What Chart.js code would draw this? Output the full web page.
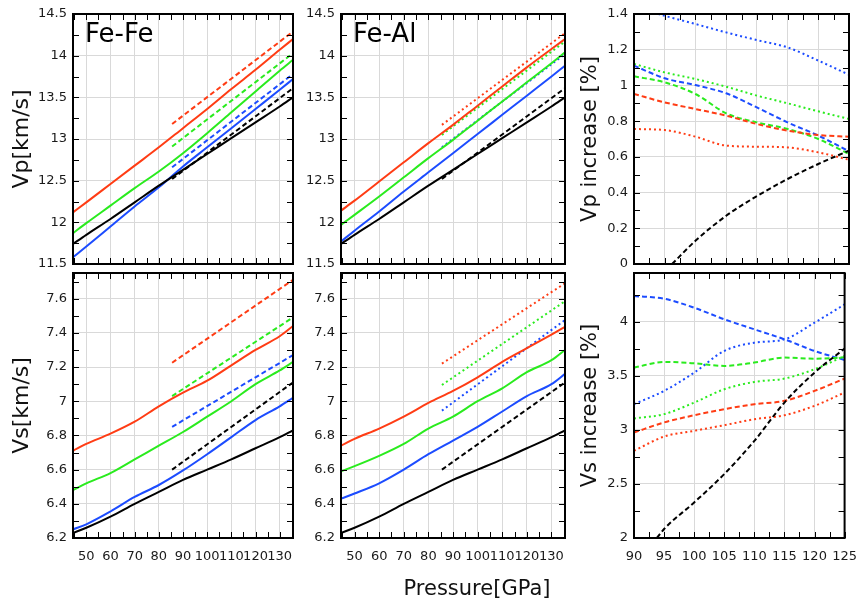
<!DOCTYPE html>
<html>
<head>
<meta charset="utf-8">
<script src="https://cdn.jsdelivr.net/npm/chart.js@4.4.1/dist/chart.umd.min.js"></script>
<style>
  body { margin: 0; background: #fff; }
  #wrap { position: relative; width: 868px; height: 604px; }
  #wrap canvas { position: absolute; left: 0; top: 0; }
</style>
</head>
<body>
<div id="wrap">
  <canvas id="vpFeFe" width="868" height="604"></canvas>
  <canvas id="vpFeAl" width="868" height="604"></canvas>
  <canvas id="vpInc" width="868" height="604"></canvas>
  <canvas id="vsFeFe" width="868" height="604"></canvas>
  <canvas id="vsFeAl" width="868" height="604"></canvas>
  <canvas id="vsInc" width="868" height="604"></canvas>
</div>
<script>
// pressures (GPa)
const pFull = [44.5, 50, 60, 70, 80, 90, 100, 110, 120, 130, 135.5];
const pHigh = [85.5, 135.5];
const pInc = [90, 95, 100, 105, 110, 115, 120, 125];

// tick labels
const pTicks = [50, 60, 70, 80, 90, 100, 110, 120, 130];
const incTicks = [90, 95, 100, 105, 110, 115, 120, 125];
const vpTicks = [11.5, 12, 12.5, 13, 13.5, 14, 14.5];
const vsTicks = [6.2, 6.4, 6.6, 6.8, 7, 7.2, 7.4, 7.6];
const vpIncTicks = [0, 0.2, 0.4, 0.6, 0.8, 1, 1.2, 1.4];
const vsIncTicks = [2, 2.5, 3, 3.5, 4];

// pure Fe (same in both panels)
const vpFe = [11.74, 11.85, 12.04, 12.24, 12.44, 12.63, 12.82, 13.01, 13.2, 13.39, 13.5];
const vpFeHigh = [12.52, 13.61];
const vsFe = [6.23, 6.26, 6.325, 6.4, 6.47, 6.54, 6.6, 6.66, 6.725, 6.79, 6.83];
const vsFeHigh = [6.6, 7.11];

// Vp, Fe-Fe
const vpFeFeRed = [12.12, 12.24, 12.46, 12.68, 12.9, 13.13, 13.36, 13.6, 13.83, 14.07, 14.2];
const vpFeFeGreen = [11.87, 11.99, 12.2, 12.41, 12.61, 12.83, 13.07, 13.32, 13.57, 13.82, 13.95];
const vpFeFeBlue = [11.58, 11.71, 11.95, 12.19, 12.42, 12.67, 12.9, 13.13, 13.36, 13.59, 13.72];
const vpFeFeRedHigh = [13.18, 14.29];
const vpFeFeGreenHigh = [12.91, 14.03];
const vpFeFeBlueHigh = [12.66, 13.78];

// Vp, Fe-Al
const vpFeAlRed = [12.14, 12.26, 12.49, 12.72, 12.95, 13.17, 13.4, 13.63, 13.86, 14.08, 14.2];
const vpFeAlGreen = [11.97, 12.09, 12.31, 12.54, 12.77, 12.99, 13.22, 13.45, 13.68, 13.91, 14.04];
const vpFeAlBlue = [11.77, 11.9, 12.13, 12.37, 12.6, 12.83, 13.06, 13.29, 13.52, 13.75, 13.88];
const vpFeAlRedHigh = [13.17, 14.27];
const vpFeAlGreenHigh = [13.05, 14.17];
const vpFeAlBlueHigh = [12.9, 14.02];

// Vs, Fe-Fe
const vsFeFeRed = [6.71, 6.75, 6.81, 6.88, 6.97, 7.05, 7.12, 7.21, 7.3, 7.38, 7.44];
const vsFeFeGreen = [6.48, 6.52, 6.58, 6.66, 6.74, 6.82, 6.91, 7.0, 7.1, 7.18, 7.23];
const vsFeFeBlue = [6.25, 6.28, 6.355, 6.44, 6.51, 6.595, 6.69, 6.79, 6.89, 6.97, 7.02];
const vsFeFeRedHigh = [7.225, 7.71];
const vsFeFeGreenHigh = [7.03, 7.49];
const vsFeFeBlueHigh = [6.85, 7.27];

// Vs, Fe-Al
const vsFeAlRed = [6.74, 6.78, 6.84, 6.91, 6.99, 7.06, 7.14, 7.23, 7.31, 7.39, 7.435];
const vsFeAlGreen = [6.59, 6.62, 6.68, 6.75, 6.84, 6.91, 7.0, 7.075, 7.17, 7.24, 7.3];
const vsFeAlBlue = [6.43, 6.46, 6.52, 6.6, 6.69, 6.77, 6.85, 6.94, 7.03, 7.1, 7.16];
const vsFeAlRedHigh = [7.22, 7.69];
const vsFeAlGreenHigh = [7.095, 7.585];
const vsFeAlBlueHigh = [6.945, 7.475];

// Vp increase [%]
const vpIncBlueDot = [1.44, 1.39, 1.344, 1.297, 1.254, 1.213, 1.139, 1.06];
const vpIncGreenDot = [1.12, 1.073, 1.036, 0.993, 0.943, 0.9, 0.855, 0.812];
const vpIncRedDot = [0.756, 0.75, 0.713, 0.663, 0.657, 0.653, 0.625, 0.584];
const vpIncBlueDash = [1.111, 1.04, 1.002, 0.956, 0.877, 0.793, 0.719, 0.631];
const vpIncGreenDash = [1.051, 1.017, 0.952, 0.844, 0.793, 0.756, 0.7, 0.616];
const vpIncRedDash = [0.952, 0.905, 0.868, 0.831, 0.784, 0.747, 0.722, 0.713];
const pIncBlackVp = [96.2, 100, 105, 110, 115, 120, 125];
const vpIncBlack = [0, 0.13, 0.27, 0.38, 0.476, 0.56, 0.635];

// Vs increase [%]
const vsIncBlueDash = [4.237, 4.212, 4.129, 4.022, 3.929, 3.837, 3.729, 3.646];
const vsIncBlueDot = [3.237, 3.36, 3.529, 3.729, 3.806, 3.837, 3.991, 4.16];
const vsIncGreenDash = [3.575, 3.628, 3.615, 3.591, 3.622, 3.668, 3.658, 3.67];
const vsIncGreenDot = [3.105, 3.145, 3.252, 3.375, 3.443, 3.474, 3.56, 3.683];
const vsIncRedDash = [2.975, 3.068, 3.135, 3.191, 3.237, 3.268, 3.36, 3.474];
const vsIncRedDot = [2.806, 2.938, 2.991, 3.043, 3.098, 3.135, 3.222, 3.345];
const pIncBlackVs = [93.8, 95, 100, 105, 110, 115, 120, 125];
const vsIncBlack = [2.0, 2.083, 2.329, 2.591, 2.898, 3.252, 3.529, 3.751];

const RED = '#ff3c14', GREEN = '#2aeb1e', BLUE = '#1c4cff', BLACK = '#000';
const DASH = [5, 3], DOT = [2, 3];

Chart.defaults.font.family = '"DejaVu Sans", sans-serif';
Chart.defaults.font.size = 13;
Chart.defaults.color = '#1a1a1a';

function line(xs, ys, color, dash) {
  return {
    data: xs.map((x, i) => ({ x: x, y: ys[i] })),
    borderColor: color,
    borderWidth: 2,
    borderDash: dash || [],
    pointRadius: 0,
    cubicInterpolationMode: 'monotone',
    fill: false
  };
}

// inward ticks on all four sides, frame, and in-plot text
const frame = {
  id: 'frame',
  afterDatasetsDraw(chart, args, o) {
    const { ctx, chartArea: a, scales: { x, y } } = chart;
    ctx.save();
    ctx.strokeStyle = '#000';
    ctx.lineWidth = 1;
    ctx.beginPath();
    for (let v = Math.ceil(x.min / o.xStep - 1e-6) * o.xStep; v <= x.max + 1e-6; v += o.xStep) {
      const px = Math.round(x.getPixelForValue(v)) + 0.5;
      ctx.moveTo(px, a.bottom); ctx.lineTo(px, a.bottom - 6);
      ctx.moveTo(px, a.top); ctx.lineTo(px, a.top + 6);
    }
    for (let v = Math.ceil(y.min / o.yStep - 1e-6) * o.yStep; v <= y.max + 1e-6; v += o.yStep) {
      const py = Math.round(y.getPixelForValue(v)) + 0.5;
      ctx.moveTo(a.left, py); ctx.lineTo(a.left + 6, py);
      ctx.moveTo(a.right, py); ctx.lineTo(a.right - 6, py);
    }
    ctx.stroke();
    ctx.lineWidth = 2;
    ctx.strokeRect(a.left, a.top, a.right - a.left, a.bottom - a.top);
    ctx.fillStyle = '#000';
    if (o.label) {
      ctx.font = '26px "DejaVu Sans", sans-serif';
      ctx.textAlign = 'left';
      ctx.textBaseline = 'alphabetic';
      ctx.fillText(o.label, a.left + 12, a.top + 28);
    }
    if (o.xTitle) {
      ctx.font = '21px "DejaVu Sans", sans-serif';
      ctx.textAlign = 'center';
      ctx.textBaseline = 'middle';
      ctx.fillStyle = '#111';
      ctx.fillText(o.xTitle, (a.left + a.right) / 2 + 24, a.bottom + 52);
    }
    ctx.restore();
  }
};

function panel(id, o) {
  return new Chart(document.getElementById(id), {
    type: 'line',
    data: { datasets: o.sets },
    options: {
      responsive: false,
      animation: false,
      events: [],
      layout: { padding: o.pad },
      plugins: {
        legend: { display: false },
        tooltip: { enabled: false },
        frame: { xStep: o.xStep, yStep: o.yStep, label: o.label, xTitle: o.xTitle }
      },
      scales: {
        x: {
          type: 'linear',
          min: o.xMin, max: o.xMax,
          afterBuildTicks: s => { s.ticks = o.xTicks.map(v => ({ value: v })); },
          afterFit: s => { s.height = o.xh; },
          ticks: { display: o.xLabels, padding: 11, maxRotation: 0, autoSkip: false, callback: v => String(v) },
          grid: { color: '#d9d9d9', lineWidth: 1, drawTicks: false },
          border: { display: false }
        },
        y: {
          min: o.yMin, max: o.yMax,
          afterBuildTicks: s => { s.ticks = o.yTicks.map(v => ({ value: v })); },
          afterFit: s => { s.width = o.yw; },
          ticks: { padding: 6, autoSkip: false, callback: v => String(Math.round(v * 100) / 100) },
          grid: { color: '#d9d9d9', lineWidth: 1, drawTicks: false },
          border: { display: false },
          title: {
            display: !!o.yTitle, text: o.yTitle || '', color: '#111',
            font: { size: o.yTitleSize || 22 }, padding: { top: o.yTitlePad || 0, bottom: 0 }
          }
        }
      }
    },
    plugins: [frame]
  });
}

const rowTop = { top: 14, bottom: 0 }, rowBot = { top: 273, bottom: 0 };
const leftCol = { left: 0, right: 575 }, midCol = { left: 301, right: 303 }, rightCol = { left: 570, right: 19 };

panel('vpFeFe', {
  pad: Object.assign({}, rowTop, leftCol), yw: 73, xh: 340,
  xMin: 44.5, xMax: 135.5, xTicks: pTicks, xStep: 5, xLabels: false,
  yMin: 11.5, yMax: 14.5, yTicks: vpTicks, yStep: 0.25,
  yTitle: 'Vp[km/s]', yTitleSize: 22, yTitlePad: 9, label: 'Fe-Fe',
  sets: [
    line(pFull, vpFe, BLACK), line(pFull, vpFeFeBlue, BLUE), line(pFull, vpFeFeGreen, GREEN), line(pFull, vpFeFeRed, RED),
    line(pHigh, vpFeHigh, BLACK, DASH), line(pHigh, vpFeFeBlueHigh, BLUE, DASH),
    line(pHigh, vpFeFeGreenHigh, GREEN, DASH), line(pHigh, vpFeFeRedHigh, RED, DASH)
  ]
});

panel('vpFeAl', {
  pad: Object.assign({}, rowTop, midCol), yw: 40, xh: 340,
  xMin: 44.5, xMax: 135.5, xTicks: pTicks, xStep: 5, xLabels: false,
  yMin: 11.5, yMax: 14.5, yTicks: vpTicks, yStep: 0.25, label: 'Fe-Al',
  sets: [
    line(pFull, vpFe, BLACK), line(pFull, vpFeAlBlue, BLUE), line(pFull, vpFeAlGreen, GREEN), line(pFull, vpFeAlRed, RED),
    line(pHigh, vpFeHigh, BLACK, DASH), line(pHigh, vpFeAlBlueHigh, BLUE, DOT),
    line(pHigh, vpFeAlGreenHigh, GREEN, DOT), line(pHigh, vpFeAlRedHigh, RED, DOT)
  ]
});

panel('vpInc', {
  pad: Object.assign({}, rowTop, rightCol), yw: 64, xh: 340,
  xMin: 90, xMax: 125, xTicks: incTicks, xStep: 2.5, xLabels: false,
  yMin: 0, yMax: 1.4, yTicks: vpIncTicks, yStep: 0.1,
  yTitle: 'Vp increase [%]', yTitleSize: 21, yTitlePad: 8,
  sets: [
    line(pIncBlackVp, vpIncBlack, BLACK, DASH),
    line(pInc, vpIncRedDot, RED, DOT), line(pInc, vpIncRedDash, RED, DASH),
    line(pInc, vpIncGreenDash, GREEN, DASH), line(pInc, vpIncBlueDash, BLUE, DASH),
    line(pInc, vpIncGreenDot, GREEN, DOT), line(pInc, vpIncBlueDot, BLUE, DOT)
  ]
});

panel('vsFeFe', {
  pad: Object.assign({}, rowBot, leftCol), yw: 73, xh: 66,
  xMin: 44.5, xMax: 135.5, xTicks: pTicks, xStep: 5, xLabels: true,
  yMin: 6.2, yMax: 7.75, yTicks: vsTicks, yStep: 0.1,
  yTitle: 'Vs[km/s]', yTitleSize: 22, yTitlePad: 9,
  sets: [
    line(pFull, vsFe, BLACK), line(pFull, vsFeFeBlue, BLUE), line(pFull, vsFeFeGreen, GREEN), line(pFull, vsFeFeRed, RED),
    line(pHigh, vsFeHigh, BLACK, DASH), line(pHigh, vsFeFeBlueHigh, BLUE, DASH),
    line(pHigh, vsFeFeGreenHigh, GREEN, DASH), line(pHigh, vsFeFeRedHigh, RED, DASH)
  ]
});

panel('vsFeAl', {
  pad: Object.assign({}, rowBot, midCol), yw: 40, xh: 66,
  xMin: 44.5, xMax: 135.5, xTicks: pTicks, xStep: 5, xLabels: true,
  yMin: 6.2, yMax: 7.75, yTicks: vsTicks, yStep: 0.1, xTitle: 'Pressure[GPa]',
  sets: [
    line(pFull, vsFe, BLACK), line(pFull, vsFeAlBlue, BLUE), line(pFull, vsFeAlGreen, GREEN), line(pFull, vsFeAlRed, RED),
    line(pHigh, vsFeHigh, BLACK, DASH), line(pHigh, vsFeAlBlueHigh, BLUE, DOT),
    line(pHigh, vsFeAlGreenHigh, GREEN, DOT), line(pHigh, vsFeAlRedHigh, RED, DOT)
  ]
});

panel('vsInc', {
  pad: Object.assign({}, rowBot, rightCol), yw: 64, xh: 66,
  xMin: 90, xMax: 125, xTicks: incTicks, xStep: 2.5, xLabels: true,
  yMin: 2, yMax: 4.45, yTicks: vsIncTicks, yStep: 0.25,
  yTitle: 'Vs increase [%]', yTitleSize: 21, yTitlePad: 8,
  sets: [
    line(pIncBlackVs, vsIncBlack, BLACK, DASH),
    line(pInc, vsIncRedDot, RED, DOT), line(pInc, vsIncRedDash, RED, DASH),
    line(pInc, vsIncGreenDot, GREEN, DOT), line(pInc, vsIncGreenDash, GREEN, DASH),
    line(pInc, vsIncBlueDot, BLUE, DOT), line(pInc, vsIncBlueDash, BLUE, DASH)
  ]
});
</script>
</body>
</html>
